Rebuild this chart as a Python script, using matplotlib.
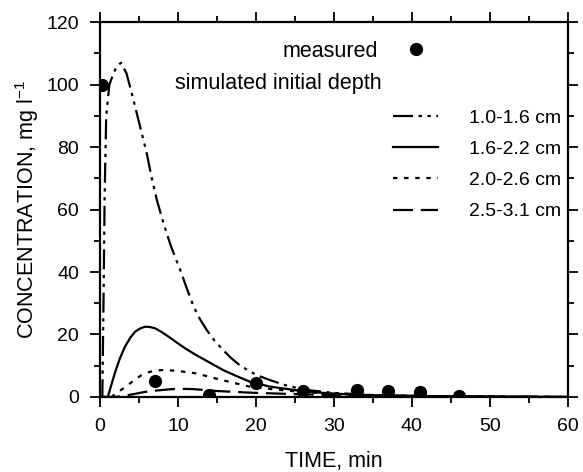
import matplotlib
matplotlib.use("Agg")
import matplotlib.pyplot as plt

plt.rcParams['font.family'] = ['Liberation Sans', 'DejaVu Sans']
plt.rcParams['mathtext.fontset'] = 'custom'
plt.rcParams['mathtext.rm'] = 'Liberation Sans'
plt.rcParams['mathtext.it'] = 'Liberation Sans:italic'

# Measured data
t_meas = [0.3, 7, 14, 20, 26, 33, 37, 41, 46]
c_meas = [100, 5, 0.6, 4.4, 1.8, 2.2, 2.0, 1.7, 0.4]

# Simulated, initial depth 1.0-1.6 cm
t_a = [0, 0.3, 0.45, 0.6, 0.8, 1.2, 1.8, 2.2, 2.7, 3.4, 4.0, 4.7, 5.3, 6.0, 6.6,
       7.3, 8.1, 9.0, 9.6, 10.3, 11.1, 12.0, 12.8, 13.7, 14.7, 15.8, 16.8, 17.9,
       19.0, 20.1, 21.8, 23, 24, 25.5, 27, 30, 35, 40, 50, 60]
c_a = [0, 0, 30, 65, 90, 100, 104, 106, 107, 103.6, 98, 91, 85, 78, 70.5,
       63, 56, 49, 45, 40.6, 35, 29, 25, 21.4, 18, 15, 12.5, 10.2,
       8.5, 7, 5.4, 4.4, 3.6, 2.8, 2.1, 1.3, 0.6, 0.3, 0.1, 0]

# 1.6-2.2 cm
t_b = [0, 1.0, 1.9, 2.5, 3.2, 3.9, 4.5, 5.2, 5.8, 6.4, 7.05, 7.9, 8.8, 9.8, 10.9,
       12.2, 13.5, 15.8, 17.5, 19.2, 21.8, 25, 28, 32, 36, 45, 60]
c_b = [0, 0, 7.6, 12, 16.1, 19, 20.9, 22, 22.5, 22.4, 22, 20.8, 19.3, 17.5, 15.6,
       13.6, 11.8, 8.6, 6.7, 4.9, 3.3, 2.2, 1.4, 0.8, 0.5, 0.2, 0]

# 2.0-2.6 cm
t_c = [0, 1.5, 2.1, 3.2, 4.3, 5.2, 6.2, 7.0, 7.9, 9.0, 10.0, 11.0, 12.2, 13.5,
       14.7, 16, 17.5, 19.2, 22, 25, 28, 32, 36, 45, 60]
c_c = [0, 0, 1.2, 3.1, 5.2, 6.8, 7.9, 8.4, 8.6, 8.5, 8.3, 8.0, 7.6, 6.8,
       6.0, 5.2, 4.3, 3.3, 2.5, 1.8, 1.3, 0.8, 0.5, 0.2, 0]

# 2.5-3.1 cm
t_d = [0, 2, 3.4, 4.5, 5.3, 6.5, 7.9, 9.2, 10.5, 12, 13.5, 15, 16.7, 19, 21.4,
       25, 30, 35, 45, 60]
c_d = [0, 0, 0.5, 1.0, 1.4, 1.9, 2.2, 2.5, 2.6, 2.5, 2.2, 1.9, 1.7, 1.4, 1.2,
       0.9, 0.6, 0.4, 0.15, 0]

labels = ["1.0-1.6 cm", "1.6-2.2 cm", "2.0-2.6 cm", "2.5-3.1 cm"]
styles = [(0, (9, 2.5, 1.5, 2.5, 1.5, 2.5)), '-', (0, (2, 3)), (0, (9, 3.5))]

fig = plt.figure(figsize=(5.83, 4.72), dpi=100)
ax = fig.add_axes([0.1715, 0.159, 0.8025, 0.794])

series = [(t_a, c_a), (t_b, c_b), (t_c, c_c), (t_d, c_d)]
handles = []
for (t, c), ls, lab in zip(series, styles, labels):
    h, = ax.plot(t, c, color='black', lw=1.6, linestyle=ls, label=lab,
                 solid_joinstyle='round')
    handles.append(h)

mh, = ax.plot(t_meas, c_meas, 'o', color='black', markersize=8.5, linestyle='none',
              label='measured')

ax.set_xlim(0, 60)
ax.set_ylim(0, 120)
ax.set_xticks(range(0, 61, 10))
ax.set_yticks(range(0, 121, 20))
ax.set_xticks(range(5, 60, 10), minor=True)
ax.set_yticks(range(10, 120, 20), minor=True)
ax.tick_params(which='both', direction='out', top=True, right=True,
               labeltop=False, labelright=False, labelsize=14, width=1.3)
ax.tick_params(which='major', length=7)
ax.tick_params(which='minor', length=4)
ax.tick_params(axis='x', which='major', pad=8)
ax.tick_params(axis='y', which='major', pad=8)
for s in ax.spines.values():
    s.set_linewidth(1.6)

ax.set_xlabel("TIME, min", fontsize=15.5, labelpad=12)
ax.set_ylabel("CONCENTRATION, mg l$^{-1}$", fontsize=15.5, labelpad=4)

leg1 = ax.legend(handles=[mh], labels=['measured'], loc='upper left',
                 bbox_to_anchor=(0.391, 0.95), frameon=False, markerfirst=False,
                 fontsize=15.5, handlelength=1.0, handletextpad=1.25,
                 borderpad=0, borderaxespad=0)
ax.add_artist(leg1)

ax.text(0.16, 0.837, "simulated initial depth", transform=ax.transAxes,
        fontsize=15.5, ha='left', va='center')

ax.legend(handles=handles, labels=labels, loc='upper left',
          bbox_to_anchor=(0.626, 0.768), frameon=False, fontsize=14,
          handlelength=2.3, handletextpad=1.6, labelspacing=0.7,
          borderpad=0, borderaxespad=0)

fig.savefig("out.png", dpi=100)
